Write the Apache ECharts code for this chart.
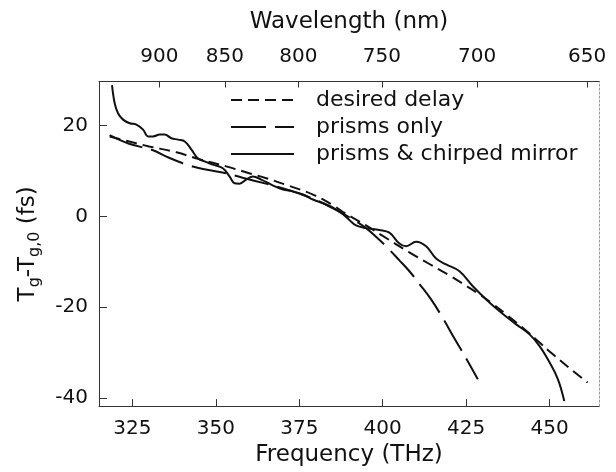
<!DOCTYPE html>
<html>
<head>
<meta charset="utf-8">
<script src="https://cdn.jsdelivr.net/npm/echarts@6/dist/echarts.min.js"></script>
<style>html,body{margin:0;padding:0;background:#fff}#c{width:616px;height:472px}</style>
</head>
<body>
<div id="c"></div>
<script>
// ---- data ----
var freqTicks = [325, 350, 375, 400, 425, 450];
var delayTicks = [-40, -20, 0, 20];
var wavelengthTicks = [900, 850, 800, 750, 700, 650];

var desiredF = [318.2, 325, 330, 338.2, 345, 353.1, 360, 365.1, 372, 379.1, 385, 388, 395, 400, 408.1, 414, 420, 425, 429, 433, 437, 443, 447, 451, 455.9, 461.4];
var desiredV = [17.6, 16.3, 15.4, 14.1, 12.6, 11.0, 9.5, 8.4, 6.7, 4.8, 2.5, 1.0, -2.0, -4.3, -8.0, -10.5, -13.0, -15.3, -17.2, -19.3, -21.6, -25.2, -27.8, -30.4, -33.4, -36.6];

var prismsF = [318.2, 324, 331, 336, 342, 347, 353, 358, 365, 370, 375, 380, 385, 390, 395, 398, 401, 405, 408, 411, 414.5, 418, 421.5, 425, 428.5];
var prismsV = [17.9, 16.0, 14.6, 12.9, 11.2, 10.3, 9.5, 8.5, 7.2, 6.2, 5.0, 3.6, 1.8, -0.2, -2.6, -4.5, -6.6, -9.7, -12.1, -14.9, -18.3, -22.4, -26.9, -31.3, -35.9];

var chirpF = [318.9, 319.7, 320.7, 322.2, 324.2, 326.2, 328.2, 329.7, 331.2, 333.2, 334.7, 336.7, 338.7, 340.7, 342.7, 344.6, 346.6, 349.1, 352.1, 354.1, 355.6, 357.1, 359.1, 361.1, 363.6, 366.6, 370.1, 373.1, 376.1, 379.1, 383.1, 386.1, 388, 390, 392, 395, 399, 402, 405, 407, 410, 413, 416, 419, 423, 427, 431, 435, 440, 444, 447, 450, 452.5, 454.4];
var chirpV = [28.9, 24.9, 22.7, 21.3, 20.5, 20.2, 19.1, 17.6, 17.6, 18.0, 18.0, 17.2, 16.9, 16.5, 14.7, 12.8, 12.1, 11.4, 10.6, 8.8, 7.3, 7.2, 8.1, 8.8, 8.1, 7.0, 5.9, 5.5, 4.8, 3.7, 2.6, 1.5, 0.5, -0.8, -2.0, -2.6, -3.0, -3.6, -6.0, -6.6, -5.6, -6.6, -9.3, -10.6, -12.1, -15.4, -18.3, -20.9, -23.8, -26.0, -28.6, -32.2, -35.9, -40.7];

var C_NM_THZ = 299792.458;

function pairs(xs, ys) { return xs.map(function (x, i) { return [x, ys[i]]; }); }

var FONT = 'DejaVu Sans';
var chart = echarts.init(document.getElementById('c'), null, { renderer: 'canvas' });
var axisCol = '#333';
var wlPos = wavelengthTicks.map(function (w) { return C_NM_THZ / w; });

chart.setOption({
  animation: false,
  backgroundColor: '#fff',
  grid: { left: 99, right: 17, top: 81.5, bottom: 64.5, containLabel: false },
  legend: {
    orient: 'vertical', left: 230, top: 89, padding: 0,
    itemWidth: 63, itemHeight: 14, itemGap: 5,
    itemStyle: { color: 'transparent', borderColor: 'transparent', borderWidth: 0, opacity: 0 },
    textStyle: { fontFamily: FONT, fontSize: 22, color: '#111', lineHeight: 22, padding: [0, 0, 0, 17] },
    data: ['desired delay', 'prisms only', 'prisms & chirped mirror']
  },
  xAxis: [{
    type: 'value', position: 'bottom', min: 315, max: 464.8,
    name: 'Frequency (THz)', nameLocation: 'middle', nameGap: 27,
    nameTextStyle: { fontFamily: FONT, fontSize: 23, color: '#111' },
    axisLine: { show: true, onZero: false, lineStyle: { color: axisCol, width: 1 } },
    axisTick: { show: true, inside: true, length: 7, customValues: freqTicks, lineStyle: { color: axisCol } },
    axisLabel: { customValues: freqTicks, fontFamily: FONT, fontSize: 20, color: '#111', margin: 13 },
    splitLine: { show: false }
  }, {
    type: 'value', position: 'top', min: 315, max: 464.8,
    name: 'Wavelength (nm)', nameLocation: 'middle', nameGap: 48,
    nameTextStyle: { fontFamily: FONT, fontSize: 23, color: '#111' },
    axisLine: { show: true, onZero: false, lineStyle: { color: axisCol, width: 1 } },
    axisTick: { show: true, inside: true, length: 6, customValues: wlPos, lineStyle: { color: axisCol } },
    axisLabel: {
      customValues: wlPos,
      formatter: function (v) { return String(Math.round(C_NM_THZ / v)); },
      fontFamily: FONT, fontSize: 20, color: '#111', margin: 15
    },
    splitLine: { show: false }
  }],
  yAxis: [{
    type: 'value', position: 'left', min: -41.8, max: 29.7,
    name: '{a|T}{s|g}{a|-T}{s|g,0}{a| (fs)}', nameLocation: 'middle', nameGap: 56, nameRotate: 90,
    nameTextStyle: {
      fontFamily: FONT, fontSize: 23, color: '#111',
      rich: {
        a: { fontFamily: FONT, fontSize: 23, color: '#111', lineHeight: 30 },
        s: { fontFamily: FONT, fontSize: 16, color: '#111', lineHeight: 30, padding: [14, 0, 0, 0] }
      }
    },
    axisLine: { show: true, onZero: false, lineStyle: { color: axisCol, width: 1 } },
    axisTick: { show: true, inside: true, length: 8, customValues: delayTicks, lineStyle: { color: axisCol } },
    axisLabel: { customValues: delayTicks, fontFamily: FONT, fontSize: 20, color: '#111', margin: 11 },
    splitLine: { show: false }
  }, {
    type: 'value', position: 'right', min: -41.8, max: 29.7,
    axisLine: { show: true, onZero: false, lineStyle: { color: '#999', width: 1, type: [2, 2] } },
    axisTick: { show: false }, axisLabel: { show: false }, splitLine: { show: false }
  }],
  series: [{
    name: 'desired delay', type: 'line', symbol: 'none', smooth: 0.4,
    xAxisIndex: 0, yAxisIndex: 0,
    lineStyle: { color: '#111', width: 2, type: [11, 6] },
    itemStyle: { color: '#111' },
    data: pairs(desiredF, desiredV)
  }, {
    name: 'prisms only', type: 'line', symbol: 'none', smooth: 0.4,
    xAxisIndex: 0, yAxisIndex: 0,
    lineStyle: { color: '#111', width: 2, type: [35, 9] },
    itemStyle: { color: '#111' },
    data: pairs(prismsF, prismsV)
  }, {
    name: 'prisms & chirped mirror', type: 'line', symbol: 'none', smooth: 0.4,
    xAxisIndex: 0, yAxisIndex: 0,
    lineStyle: { color: '#111', width: 2 },
    itemStyle: { color: '#111' },
    data: pairs(chirpF, chirpV)
  }]
});
</script>
</body>
</html>
